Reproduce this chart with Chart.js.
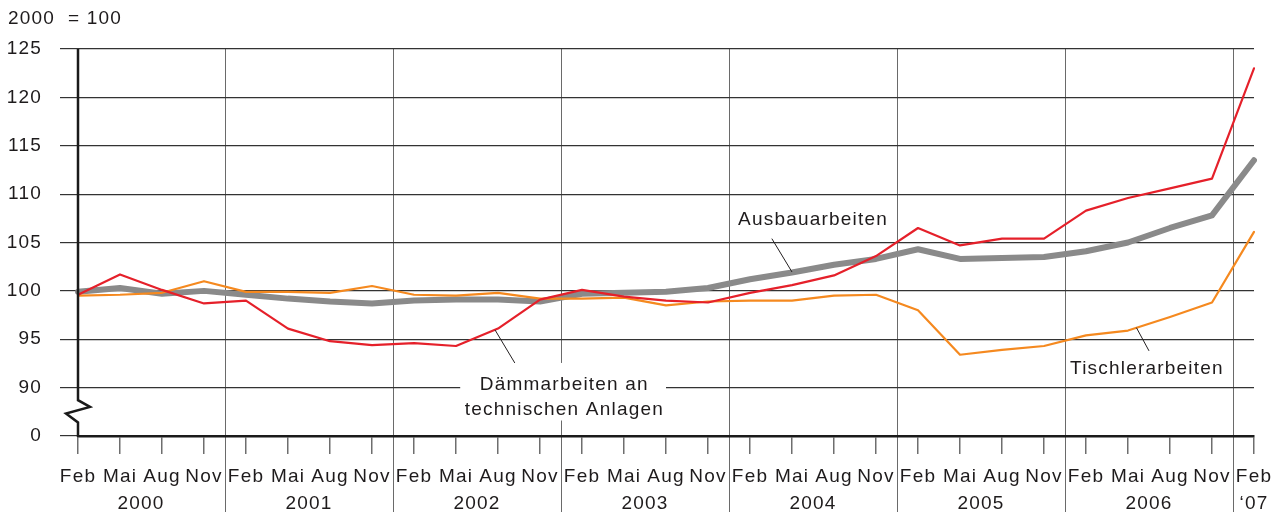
<!DOCTYPE html>
<html>
<head>
<meta charset="utf-8">
<script src="https://cdn.jsdelivr.net/npm/chart.js@4/dist/chart.umd.min.js"></script>
<style>
  html, body { margin: 0; padding: 0; background: #fff; }
  #wrap { width: 1287px; height: 512px; }
</style>
</head>
<body>
<div id="wrap"><canvas id="chart"></canvas></div>
<script>
// Quartale Feb 2000 bis Feb 2007
const monate = [
  'Feb','Mai','Aug','Nov','Feb','Mai','Aug','Nov','Feb','Mai','Aug','Nov',
  'Feb','Mai','Aug','Nov','Feb','Mai','Aug','Nov','Feb','Mai','Aug','Nov',
  'Feb','Mai','Aug','Nov','Feb'
];
const jahre = ['2000', '2001', '2002', '2003', '2004', '2005', '2006', '\u201807'];

// 2000 = 100
const daemmarbeiten = [
  99.6, 101.7, 100.1, 98.7, 99.0, 96.1, 94.8, 94.4, 94.6, 94.3, 96.1, 99.1,
  100.1, 99.4, 99.0, 98.8, 99.8, 100.6, 101.6, 103.6, 106.5, 104.7, 105.4, 105.4,
  108.3, 109.6, 110.6, 111.6, 123.0
];
const ausbauarbeiten = [
  99.9, 100.3, 99.7, 100.0, 99.6, 99.2, 98.9, 98.7, 99.0, 99.1, 99.1, 98.9,
  99.7, 99.8, 99.9, 100.3, 101.2, 101.9, 102.7, 103.3, 104.3, 103.3, 103.4, 103.5,
  104.1, 105.0, 106.5, 107.8, 113.5
];
const tischlerarbeiten = [
  99.5, 99.6, 99.8, 101.0, 99.9, 99.9, 99.8, 100.5, 99.6, 99.5, 99.8, 99.2,
  99.2, 99.3, 98.5, 98.9, 99.0, 99.0, 99.5, 99.6, 98.0, 93.4, 93.9, 94.3,
  95.4, 95.9, 97.3, 98.8, 106.1
];

const yTicks = [85, 90, 95, 100, 105, 110, 115, 120, 125]; // 85 wird als "0" beschriftet (Achsenbruch)

const schrift = '19px "Liberation Sans", Arial, sans-serif';
const textFarbe = '#1e1b1c';

// Beschriftungen im Diagramm (in Datenkoordinaten: Index, Wert)
const beschriftungen = [
  { zeilen: ['Ausbauarbeiten'], x: 17.5, y: 106.8, linie: [16.52, 105.4, 17.0, 101.95] },
  { zeilen: ['Dämmarbeiten an', 'technischen Anlagen'], x: 11.58, y: 89.8, linie: [9.93, 95.96, 10.4, 92.55],
    box: [9.1, 92.55, 14.0, 86.6] },
  { zeilen: ['Tischlerarbeiten'], x: 25.45, y: 91.4, linie: [25.2, 96.2, 25.5, 93.8] }
];

const deko = {
  id: 'deko',
  beforeUpdate(chart) {
    chart.ctx.letterSpacing = '1.2px';
  },
  beforeDraw(chart) {
    const { ctx, chartArea, scales: { x } } = chart;
    ctx.letterSpacing = '1.2px';
    // Jahrestrenner
    ctx.save();
    ctx.strokeStyle = '#6a6a6a';
    ctx.lineWidth = 1;
    for (let k = 0; k < 7; k++) {
      const px = Math.round(x.getPixelForValue(4 * k + 3.5)) + 0.5;
      ctx.beginPath();
      ctx.moveTo(px, chartArea.top);
      ctx.lineTo(px, chart.height);
      ctx.stroke();
    }
    ctx.restore();
  },
  afterDraw(chart) {
    const { ctx, chartArea, scales: { x, y } } = chart;
    ctx.save();
    ctx.letterSpacing = '1.2px';

    // y-Achse mit Bruch
    const ax = chartArea.left;
    const yb1 = y.getPixelForValue(88.7);
    const yb2 = y.getPixelForValue(86.4);
    const h = yb2 - yb1;
    ctx.strokeStyle = '#1a1a1a';
    ctx.lineWidth = 2.5;
    ctx.lineJoin = 'miter';
    ctx.beginPath();
    ctx.moveTo(ax, chartArea.top);
    ctx.lineTo(ax, yb1);
    ctx.lineTo(ax + 12, yb1 + h * 0.3);
    ctx.lineTo(ax - 12, yb1 + h * 0.6);
    ctx.lineTo(ax, yb2);
    ctx.lineTo(ax, chartArea.bottom + 1);
    ctx.stroke();

    // Beschriftungen
    ctx.font = schrift;
    ctx.fillStyle = textFarbe;
    ctx.textAlign = 'center';
    ctx.textBaseline = 'alphabetic';
    beschriftungen.forEach(b => {
      if (b.box) {
        const x0 = x.getPixelForValue(b.box[0]), y0 = y.getPixelForValue(b.box[1]);
        const x1 = x.getPixelForValue(b.box[2]), y1 = y.getPixelForValue(b.box[3]);
        ctx.fillStyle = '#fff';
        ctx.fillRect(x0, y0, x1 - x0, y1 - y0);
        ctx.fillStyle = textFarbe;
      }
      ctx.strokeStyle = '#231f20';
      ctx.lineWidth = 1;
      ctx.beginPath();
      ctx.moveTo(x.getPixelForValue(b.linie[0]), y.getPixelForValue(b.linie[1]));
      ctx.lineTo(x.getPixelForValue(b.linie[2]), y.getPixelForValue(b.linie[3]));
      ctx.stroke();
      const px = x.getPixelForValue(b.x);
      const py = y.getPixelForValue(b.y);
      b.zeilen.forEach((t, i) => ctx.fillText(t, px, py + i * 25.5));
    });

    // Jahre unter den Monaten
    jahre.forEach((j, k) => {
      const v = k < 7 ? 4 * k + 1.5 : 28;
      ctx.fillText(j, x.getPixelForValue(v), 509);
    });

    // Einheit oben links
    ctx.textAlign = 'left';
    ctx.fillText('2000  = 100', 8, 24);
    ctx.restore();
  }
};

new Chart(document.getElementById('chart'), {
  type: 'line',
  data: {
    labels: monate,
    datasets: [
      { label: 'Dämmarbeiten an technischen Anlagen', data: daemmarbeiten, borderColor: '#e5202a', borderWidth: 2.2, order: 0 },
      { label: 'Tischlerarbeiten', data: tischlerarbeiten, borderColor: '#f5891f', borderWidth: 2.2, order: 1 },
      { label: 'Ausbauarbeiten', data: ausbauarbeiten, borderColor: '#8a8a8a', borderWidth: 6, order: 2 }
    ]
  },
  options: {
    responsive: true,
    maintainAspectRatio: false,
    animation: false,
    events: [],
    elements: {
      point: { radius: 0 },
      line: { tension: 0, borderJoinStyle: 'round', borderCapStyle: 'round' }
    },
    layout: { padding: { top: 49, right: 33, left: 0, bottom: 0 } },
    plugins: {
      legend: { display: false },
      tooltip: { enabled: false },
      title: { display: false }
    },
    scales: {
      x: {
        type: 'category',
        offset: false,
        afterFit: s => { s.height = 76; },
        grid: { drawOnChartArea: false, drawTicks: true, tickLength: 18, color: '#6e6e6e', lineWidth: 1.5 },
        border: { display: true, color: '#1a1a1a', width: 2.5 },
        ticks: {
          autoSkip: false, maxRotation: 0, minRotation: 0, padding: 11,
          color: textFarbe, font: { family: '"Liberation Sans", Arial, sans-serif', size: 19 }
        }
      },
      y: {
        min: 85,
        max: 125,
        afterFit: s => { s.width = 78; },
        afterBuildTicks: s => { s.ticks = yTicks.map(v => ({ value: v })); },
        grid: { color: '#333', lineWidth: 1.2, drawTicks: true, tickLength: 18 },
        border: { display: false },
        ticks: {
          padding: 18,
          color: textFarbe,
          font: { family: '"Liberation Sans", Arial, sans-serif', size: 19 },
          callback: v => (v === 85 ? '0' : String(v))
        }
      }
    }
  },
  plugins: [deko]
});
</script>
</body>
</html>
